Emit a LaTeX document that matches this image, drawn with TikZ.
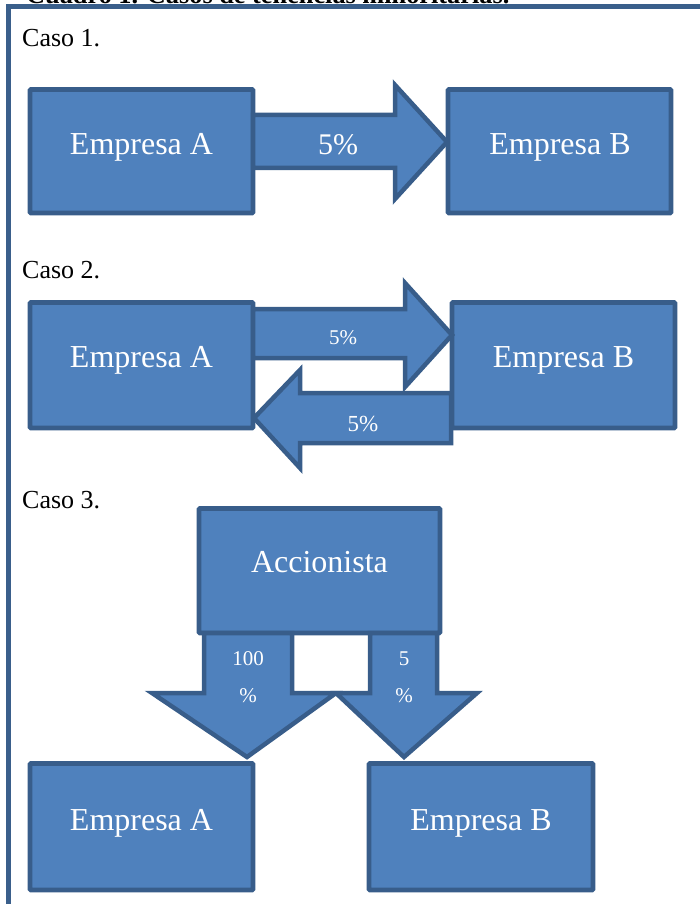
\documentclass[tikz,border=0pt]{standalone}
\usepackage{fontspec}
\setmainfont{Liberation Serif}
\definecolor{boxfill}{HTML}{4F81BD}
\definecolor{boxline}{HTML}{385D8A}
\definecolor{frameline}{HTML}{3A5F8B}
\begin{document}
\begin{tikzpicture}[x=1pt,y=-1pt,
  box/.style={draw=boxline,fill=boxfill,line width=4.8pt,rounded corners=1pt},
  barrow/.style={draw=boxline,fill=boxfill,line width=4.5pt,line join=miter},
  big/.style={text=white,anchor=base,font=\fontsize{32}{36}\selectfont},
  lbl/.style={anchor=base west,font=\fontsize{26}{30}\selectfont}]
\useasboundingbox (0,0) rectangle (700,904);
\clip (0,0) rectangle (700,904);
% title (cut off) and frame
\node[anchor=base west,inner sep=0pt,font=\bfseries\fontsize{26.3}{30}\selectfont] (title) at (26,3.5) {Cuadro 1. Casos de tenencias minoritarias.};
\draw[frameline,line width=4.5pt] (8.5,920) -- (8.5,6.5) -- (720,6.5);
% Caso 1
\node[lbl,inner sep=0pt] (c1) at (22,47) {Caso 1.};
\draw[box] (30,89.5) rectangle (253,213);
\draw[barrow] (253,115) -- (395,115) -- (395,85) -- (447,142) -- (395,199) -- (395,168) -- (253,168) -- cycle;
\draw[box] (448,89.5) rectangle (671,213);
\node[big,inner sep=0pt] (c1a) at (141.5,155) {Empresa A};
\node[big,inner sep=0pt,font=\fontsize{30}{34}\selectfont] (c1p) at (338,155) {5\%};
\node[big,inner sep=0pt] (c1b) at (560,155) {Empresa B};
% Caso 2
\node[lbl,inner sep=0pt] (c2) at (22,278) {Caso 2.};
\draw[box] (30,302.5) rectangle (253,428);
\draw[box] (452,302.5) rectangle (675,428);
\draw[barrow] (253,309) -- (405,309) -- (405,283) -- (452,335) -- (405,387) -- (405,358) -- (253,358) -- cycle;
\draw[barrow] (451,393) -- (300,393) -- (300,370) -- (254,418) -- (300,468) -- (300,443) -- (451,443) -- cycle;
\node[big,inner sep=0pt] (c2a) at (141.5,367) {Empresa A};
\node[big,inner sep=0pt] (c2b) at (563.5,367) {Empresa B};
\node[big,inner sep=0pt,font=\fontsize{21}{24}\selectfont] (c2p1) at (343,344) {5\%};
\node[big,inner sep=0pt,font=\fontsize{23}{26}\selectfont] (c2p2) at (363,431) {5\%};
% Caso 3
\node[lbl,inner sep=0pt] (c3) at (22,508) {Caso 3.};
\draw[box] (199,508.5) rectangle (440,633);
\node[big,inner sep=0pt] (acc) at (319.5,572) {Accionista};
\draw[barrow] (204,633) -- (204,693) -- (152,693) -- (247,757) -- (336,693) -- (292,693) -- (292,633) -- cycle;
\draw[barrow] (370,633) -- (370,693) -- (336,693) -- (404,757) -- (477,693) -- (437,693) -- (437,633) -- cycle;
\node[big,inner sep=0pt,font=\fontsize{21}{24}\selectfont] (p100) at (248,665) {100};
\node[big,inner sep=0pt,font=\fontsize{21}{24}\selectfont] (p100b) at (248,702) {\%};
\node[big,inner sep=0pt,font=\fontsize{21}{24}\selectfont] (p5) at (404,665) {5};
\node[big,inner sep=0pt,font=\fontsize{21}{24}\selectfont] (p5b) at (404,702) {\%};
\draw[box] (30,763.5) rectangle (253,890);
\draw[box] (369,763.5) rectangle (593,890);
\node[big,inner sep=0pt] (c3a) at (141.5,830) {Empresa A};
\node[big,inner sep=0pt] (c3b) at (481,830) {Empresa B};
\end{tikzpicture}
\end{document}
